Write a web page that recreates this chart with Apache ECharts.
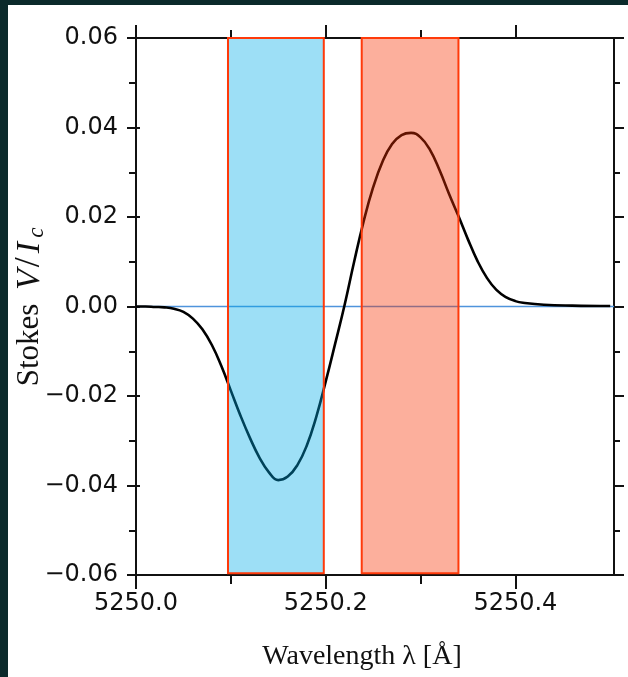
<!DOCTYPE html>
<html>
<head>
<meta charset="utf-8">
<script src="https://cdn.jsdelivr.net/npm/echarts@6/dist/echarts.min.js"></script>
<style>html,body{margin:0;padding:0;background:#0b2a2b;}#c{width:628px;height:677px;}</style>
</head>
<body>
<div id="c"></div>
<script>
// ---- data ----
const wavelength = [5250.00, 5250.01, 5250.02, 5250.03, 5250.04, 5250.05, 5250.06, 5250.07, 5250.08, 5250.09,
  5250.10, 5250.11, 5250.12, 5250.13, 5250.14, 5250.15, 5250.16, 5250.17, 5250.18, 5250.19,
  5250.20, 5250.21, 5250.22, 5250.23, 5250.24, 5250.25, 5250.26, 5250.27, 5250.28, 5250.29,
  5250.30, 5250.31, 5250.32, 5250.33, 5250.34, 5250.35, 5250.36, 5250.37, 5250.38, 5250.39,
  5250.40, 5250.41, 5250.43, 5250.46, 5250.50];
const stokesV = [0, 0, -0.0001, -0.0002, -0.0005, -0.0012, -0.0027, -0.0051, -0.0086, -0.0133,
  -0.0188, -0.0243, -0.0293, -0.0337, -0.0370, -0.0388, -0.0380, -0.0355, -0.0311, -0.0247,
  -0.0168, -0.0083, 0.0004, 0.0100, 0.0190, 0.0266, 0.0324, 0.0363, 0.0383, 0.0388,
  0.0378, 0.0350, 0.0305, 0.0252, 0.0202, 0.0150, 0.0102, 0.0064, 0.0037, 0.0021,
  0.0012, 0.0008, 0.0004, 0.0002, 0.0001];
const xMajorTicks = [5250.0, 5250.2, 5250.4];
const xMinorTicks = [5250.1, 5250.3];
const yMajorTicks = [-0.06, -0.04, -0.02, 0.00, 0.02, 0.04, 0.06];
const yMinorTicks = [-0.05, -0.03, -0.01, 0.01, 0.03, 0.05];
const blueBand = [5250.097, 5250.198];
const redBand = [5250.238, 5250.340];
const bandY = [-0.0596, 0.06];
const xRange = [5250.0, 5250.504];
const yRange = [-0.06, 0.06];
const xTitle = 'Wavelength λ [Å]';

// ---- chart ----
const chart = echarts.init(document.getElementById('c'), null, {renderer: 'canvas'});
const black = '#111';
const lineW = 2;
function xAxisDef(pos, ticks, len, labels) {
  return {
    type: 'value', position: pos, min: xRange[0], max: xRange[1],
    axisLine: {show: true, onZero: false, lineStyle: {color: black, width: lineW}},
    axisTick: {show: true, inside: false, length: len, customValues: ticks, lineStyle: {color: black, width: lineW}},
    axisLabel: labels ? {show: true, customValues: ticks, margin: 17, color: '#111',
      fontFamily: 'DejaVu Sans', fontSize: 24, formatter: v => v.toFixed(1)} : {show: false},
    splitLine: {show: false}
  };
}
function yAxisDef(pos, ticks, len, inside, labels) {
  return {
    type: 'value', position: pos, min: yRange[0], max: yRange[1], interval: 0.02,
    axisLine: {show: true, onZero: false, lineStyle: {color: black, width: lineW}},
    axisTick: {show: true, inside: inside, length: len, customValues: ticks, lineStyle: {color: black, width: lineW}},
    axisLabel: labels ? {show: true, customValues: ticks, margin: 18, color: '#111',
      fontFamily: 'DejaVu Sans', fontSize: 24,
      formatter: v => (v < -1e-9 ? '\u2212' : '') + Math.abs(v).toFixed(2)} : {show: false},
    splitLine: {show: false}
  };
}
const curve = wavelength.map((w, i) => [w, stokesV[i]]);
const serif = 'Liberation Serif';
const option = {
  backgroundColor: '#0b2a2b',
  animation: false,
  graphic: [
    {type: 'rect', z: -5, shape: {x: 8, y: 5, width: 620, height: 672}, style: {fill: '#ffffff'}},
    {type: 'text', z: 10, x: 362, y: 657, style: {text: xTitle, fontFamily: serif, fontSize: 28,
      fill: '#111', align: 'center', verticalAlign: 'middle'}},
    {type: 'text', z: 10, x: 30, y: 307, rotation: Math.PI / 2,
      style: {text: '{a|Stokes }{v|V}{h|/}{i|I}{s|c}', align: 'center', verticalAlign: 'middle', fill: '#111',
        rich: {
          a: {fontFamily: serif, fontSize: 31, lineHeight: 36, verticalAlign: 'middle', fill: '#111', padding: [0, 4, 0, 0]},
          v: {fontFamily: serif, fontStyle: 'italic', fontSize: 34, lineHeight: 36, verticalAlign: 'middle', fill: '#111', padding: [0, 1, 0, 2]},
          h: {fontFamily: serif, fontSize: 36, lineHeight: 36, verticalAlign: 'middle', fill: '#111', padding: [0, 2, 0, 1]},
          i: {fontFamily: serif, fontStyle: 'italic', fontSize: 34, lineHeight: 36, verticalAlign: 'middle', fill: '#111', padding: [0, 4, 0, 2]},
          s: {fontFamily: serif, fontStyle: 'italic', fontSize: 23, lineHeight: 36, verticalAlign: 'bottom', fill: '#111'}
        }}}
  ],
  grid: {left: 136, right: 14, top: 38, bottom: 102, containLabel: false},
  xAxis: [
    xAxisDef('bottom', xMajorTicks, 14, true),
    xAxisDef('bottom', xMinorTicks, 9, false),
    xAxisDef('top', xMajorTicks, 13, false),
    xAxisDef('top', xMinorTicks, 8, false)
  ],
  yAxis: [
    yAxisDef('left', yMajorTicks, 9, false, true),
    yAxisDef('left', yMajorTicks, 4, true, false),
    yAxisDef('left', yMinorTicks, 7, false, false),
    yAxisDef('right', yMajorTicks, 10, false, false),
    yAxisDef('right', yMinorTicks, 6, false, false)
  ],
  series: [
    {
      type: 'line', xAxisIndex: 0, yAxisIndex: 0, data: curve, smooth: 0.45,
      showSymbol: false, symbol: 'none',
      lineStyle: {color: '#000', width: 2.6}, z: 2, silent: true,
      markLine: {
        silent: true, symbol: ['none', 'none'], z: 1, label: {show: false},
        lineStyle: {color: '#4f94dc', width: 1.4, type: 'solid'},
        data: [{yAxis: 0}]
      },
      markArea: {
        silent: true, z: 3,
        data: [
          [{xAxis: blueBand[0], yAxis: bandY[0], itemStyle: {color: 'rgba(0,172,232,0.385)', borderColor: '#ff3a0a', borderWidth: 2}},
           {xAxis: blueBand[1], yAxis: bandY[1]}],
          [{xAxis: redBand[0], yAxis: bandY[0], itemStyle: {color: 'rgba(247,50,1,0.39)', borderColor: '#ff3a0a', borderWidth: 2}},
           {xAxis: redBand[1], yAxis: bandY[1]}]
        ]
      }
    }
  ]
};
chart.setOption(option);
</script>
</body>
</html>
